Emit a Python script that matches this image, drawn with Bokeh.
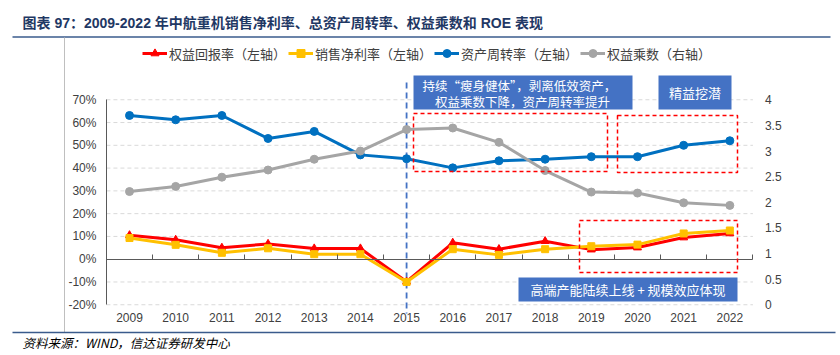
from bokeh.plotting import figure
from bokeh.models import (Range1d, LinearAxis, FixedTicker, PrintfTickFormatter,
                          CustomJSTickFormatter, Label, BoxAnnotation, Legend, LegendItem)
from bokeh.embed import file_html
from bokeh.resources import INLINE

# ---------------- data ----------------
years = [2009, 2010, 2011, 2012, 2013, 2014, 2015, 2016, 2017, 2018, 2019, 2020, 2021, 2022]
roe = [10.5, 8.5, 5.0, 6.7, 4.7, 4.7, -9.9, 7.2, 4.4, 7.9, 4.2, 5.1, 9.5, 11.3]          # 权益回报率 (%)
net_margin = [9.3, 6.3, 2.8, 4.8, 2.2, 2.2, -10.0, 4.4, 1.9, 4.4, 5.7, 6.4, 11.3, 12.6]  # 销售净利率 (%)
turnover = [63.1, 61.2, 63.1, 53.0, 56.1, 45.8, 44.1, 40.1, 43.2, 43.9, 45.0, 45.0, 50.0, 52.0]  # 资产周转率 (%)
multiplier = [2.21, 2.31, 2.49, 2.63, 2.84, 3.00, 3.42, 3.45, 3.17, 2.62, 2.20, 2.18, 1.99, 1.94]  # 权益乘数
divider_year = 2015

left_ticks = [-20, -10, 0, 10, 20, 30, 40, 50, 60, 70]
right_ticks = [0, 0.5, 1, 1.5, 2, 2.5, 3, 3.5, 4]

series_names = ["权益回报率（左轴）", "销售净利率（左轴）", "资产周转率（左轴）", "权益乘数（右轴）"]
title_text = "图表 97：2009-2022 年中航重机销售净利率、总资产周转率、权益乘数和 ROE 表现"
source_text = "资料来源：WIND，信达证券研发中心"
note1_lines = ["持续“瘦身健体”，剥离低效资产，", "权益乘数下降，资产周转率提升"]
note2_text = "精益挖潜"
note3_text = "高端产能陆续上线 + 规模效应体现"

# ---------------- layout (pixels) ----------------
W, H = 840, 355
X_PX0, X_PX_PER = 129.0, 46.18       # pixel of first year, pixels per year
YL_PX0, YL_PX_PER = 258.7, 2.2778    # pixel of 0 %, pixels per %
YR_PX0, YR_PX_PER = 304.3, 51.25     # pixel of 0 (right), pixels per unit


def dx(px):
    return years[0] + (px - X_PX0) / X_PX_PER


def dy(py):
    return (YL_PX0 - py) / YL_PX_PER


def dyr(py):
    return (YR_PX0 - py) / YR_PX_PER


RED, YELLOW, BLUE, GRAY = "#FF0000", "#FFC000", "#0070C0", "#A5A5A5"
NAVY = "#4472C4"
AXIS_C = "#595959"
TXT_C = "#404040"
NUM_FONT = "Liberation Sans"
CJK_FONT = "Noto Sans CJK SC"

p = figure(width=W, height=H,
           x_range=Range1d(dx(0), dx(W)), y_range=Range1d(dy(H), dy(0)),
           x_axis_type=None, y_axis_type=None,
           toolbar_location=None, output_backend="svg",
           min_border=0, min_border_left=0, min_border_right=0,
           min_border_top=0, min_border_bottom=0)
p.extra_y_ranges = {"right": Range1d(dyr(H), dyr(0))}
p.outline_line_color = None
p.title.visible = False
p.background_fill_color = "white"
p.border_fill_color = "white"

x_lo, x_hi = years[0] - 0.5, years[-1] + 0.5

# gridlines
grid_vals = [t for t in left_ticks if t != 0]
p.segment(x0=[x_lo] * len(grid_vals), y0=grid_vals, x1=[x_hi] * len(grid_vals), y1=grid_vals,
          line_color="#D9D9D9", line_width=1, line_dash="4 3")

# left axis
ax_l = LinearAxis(fixed_location=x_lo, bounds=(left_ticks[0], left_ticks[-1]),
                  ticker=FixedTicker(ticks=left_ticks),
                  formatter=PrintfTickFormatter(format="%d%%"))
ax_l.axis_line_color = AXIS_C
ax_l.major_tick_line_color = None
ax_l.minor_tick_line_color = None
ax_l.major_tick_out = 0
ax_l.major_tick_in = 0
ax_l.major_label_standoff = 10
ax_l.major_label_text_font = NUM_FONT
ax_l.major_label_text_font_size = "12px"
ax_l.major_label_text_color = TXT_C
p.add_layout(ax_l, "left")

# right axis
ax_r = LinearAxis(y_range_name="right", fixed_location=x_hi,
                  ticker=FixedTicker(ticks=right_ticks),
                  formatter=CustomJSTickFormatter(code="return String(tick);"))
ax_r.axis_line_color = None
ax_r.major_tick_line_color = None
ax_r.minor_tick_line_color = None
ax_r.major_tick_out = 0
ax_r.major_tick_in = 0
ax_r.major_label_standoff = 12
ax_r.major_label_text_font = NUM_FONT
ax_r.major_label_text_font_size = "12px"
ax_r.major_label_text_color = TXT_C
p.add_layout(ax_r, "right")

# zero line axis with category ticks
bounds_ticks = [y - 0.5 for y in years] + [x_hi]
ax_0 = LinearAxis(fixed_location=0, bounds=(x_lo, x_hi), ticker=FixedTicker(ticks=bounds_ticks))
ax_0.axis_line_color = AXIS_C
ax_0.axis_line_width = 1.2
ax_0.major_tick_line_color = AXIS_C
ax_0.major_tick_in = 5
ax_0.major_tick_out = 0
ax_0.minor_tick_line_color = None
ax_0.major_label_text_color = None
p.add_layout(ax_0, "below")

# year labels axis
ax_x = LinearAxis(fixed_location=left_ticks[0], ticker=FixedTicker(ticks=years),
                  formatter=PrintfTickFormatter(format="%d"))
ax_x.axis_line_color = None
ax_x.major_tick_line_color = None
ax_x.minor_tick_line_color = None
ax_x.major_tick_out = 0
ax_x.major_tick_in = 0
ax_x.major_label_standoff = 8
ax_x.major_label_text_font = NUM_FONT
ax_x.major_label_text_font_size = "12px"
ax_x.major_label_text_color = TXT_C
p.add_layout(ax_x, "below")

# divider line at 2015
p.segment(x0=[divider_year], y0=[dy(82)], x1=[divider_year], y1=[dy(313)],
          line_color=NAVY, line_width=1.8, line_dash="6 4")

# series
r1 = p.line(years, roe, line_color=RED, line_width=3)
m1 = p.scatter(years, roe, marker="triangle", size=8, color=RED)
r2 = p.line(years, net_margin, line_color=YELLOW, line_width=3)
m2 = p.scatter(years, net_margin, marker="square", size=7, color=YELLOW)
r3 = p.line(years, turnover, line_color=BLUE, line_width=3)
m3 = p.scatter(years, turnover, marker="circle", size=8, color=BLUE)
r4 = p.line(years, multiplier, line_color=GRAY, line_width=3, y_range_name="right")
m4 = p.scatter(years, multiplier, marker="circle", size=8, color=GRAY, y_range_name="right")

legend = Legend(items=[LegendItem(label=series_names[0], renderers=[r1, m1]),
                       LegendItem(label=series_names[1], renderers=[r2, m2]),
                       LegendItem(label=series_names[2], renderers=[r3, m3]),
                       LegendItem(label=series_names[3], renderers=[r4, m4])],
                orientation="horizontal", location=(142, H - 63),
                padding=0, margin=0, spacing=2, label_standoff=2,
                glyph_width=25, glyph_height=20, label_height=20,
                background_fill_alpha=0, border_line_color=None,
                label_text_font=CJK_FONT, label_text_font_size="13px",
                label_text_color=TXT_C)
p.add_layout(legend)

# annotation boxes
def blue_box(l, r, t, b):
    p.add_layout(BoxAnnotation(left=dx(l), right=dx(r), top=dy(t), bottom=dy(b),
                               fill_color=NAVY, fill_alpha=1, line_color=None))


def red_box(l, r, t, b):
    p.add_layout(BoxAnnotation(left=dx(l), right=dx(r), top=dy(t), bottom=dy(b),
                               fill_alpha=0, line_color=RED, line_alpha=1,
                               line_width=1.5, line_dash="4 3"))


red_box(413, 607, 113, 171)
red_box(617, 737, 115, 172)
red_box(579, 737, 220, 272)
blue_box(413, 632, 75, 109)
blue_box(658, 731, 75, 109)
blue_box(518, 737, 277, 301)


def label(px, py, text, size, color, font=CJK_FONT, align="center", style="normal"):
    p.add_layout(Label(x=dx(px), y=dy(py), text=text, text_align=align, text_baseline="middle",
                       text_font=font, text_font_size=size, text_color=color,
                       text_font_style=style))


label(522, 85, note1_lines[0], "12.5px", "white")
label(522, 101, note1_lines[1], "12.5px", "white")
label(694.5, 92, note2_text, "13px", "white")
label(627.5, 289, note3_text, "13px", "white")

# title, frame lines, source
label(22, 22, title_text, "14px", "#1F3864", font="Liberation Sans, Noto Sans CJK SC",
      align="left", style="bold")
p.segment(x0=[dx(12)], y0=[dy(36.5)], x1=[dx(830)], y1=[dy(36.5)], line_color="#3A5B8C", line_width=1.5)
p.segment(x0=[dx(64)], y0=[dy(37)], x1=[dx(64)], y1=[dy(332)], line_color="#BFBFBF", line_width=1)
p.segment(x0=[dx(12)], y0=[dy(332)], x1=[dx(835)], y1=[dy(332)], line_color="#3A5B8C", line_width=1.5)
label(22, 342, source_text, "12.5px", "#000000", align="left", style="italic")

open("out.html", "w").write(file_html(p, INLINE))
